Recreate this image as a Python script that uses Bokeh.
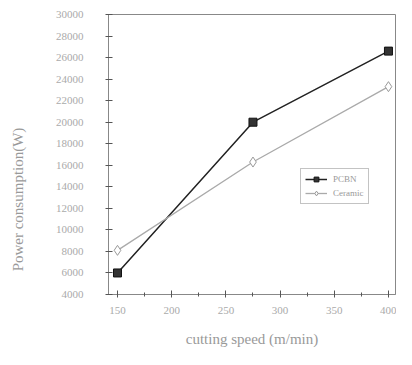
import math
from bokeh.plotting import figure
from bokeh.embed import file_html
from bokeh.resources import INLINE
from bokeh.models import Range1d, Legend, LegendItem, FixedTicker, Label

speed = [150, 275, 400]
pcbn = [6000, 20000, 26600]
ceramic = [8100, 16300, 23300]
x_ticks = [150, 200, 250, 300, 350, 400]
y_ticks = list(range(4000, 30001, 2000))
series_names = ["PCBN", "Ceramic"]

p = figure(width=396, height=349, output_backend="svg", toolbar_location=None,
           x_range=Range1d(141.7, 406.5), y_range=Range1d(4000, 30000),
           min_border_left=108, min_border_right=1, min_border_top=14, min_border_bottom=49)
p.grid.visible = False
p.outline_line_color = "#888888"
p.background_fill_color = "white"

r1 = p.line(speed, pcbn, line_color="#222222", line_width=1.5)
m1 = p.scatter(speed, pcbn, marker="square", size=8, fill_color="#333333", line_color="#111111")
r2 = p.line(speed, ceramic, line_color="#aaaaaa", line_width=1.3)
m2 = p.scatter(speed, ceramic, marker="diamond", size=10, fill_color="white", line_color="#999999")

legend = Legend(items=[LegendItem(label=series_names[0], renderers=[r1, m1]),
                       LegendItem(label=series_names[1], renderers=[r2, m2])],
                location=(192, 90), border_line_color="#888888", label_text_font_size="9px",
                label_text_color="#999999", label_text_font="Liberation Serif",
                glyph_width=22, glyph_height=12, spacing=2, padding=4, margin=0,
                label_standoff=6)
p.add_layout(legend)

for ax in (p.xaxis[0], p.yaxis[0]):
    ax.axis_line_color = "#888888"
    ax.major_tick_line_color = "#555555"
    ax.minor_tick_line_color = "#555555"
    ax.major_tick_in = 4
    ax.major_tick_out = 3
    ax.minor_tick_in = 2
    ax.minor_tick_out = 2
    ax.major_label_text_color = "#aaaaaa"
    ax.major_label_text_font = "Liberation Serif"
    ax.major_label_text_font_size = "11px"
    ax.axis_label_text_color = "#999999"
    ax.axis_label_text_font = "Liberation Serif"
    ax.axis_label_text_font_style = "normal"
    ax.axis_label_text_font_size = "15px"

p.xaxis[0].ticker = FixedTicker(ticks=x_ticks, minor_ticks=[175, 225, 275, 325, 375])
p.yaxis[0].ticker = FixedTicker(ticks=y_ticks, minor_ticks=[])
p.xaxis[0].axis_label = "cutting speed (m/min)"
p.yaxis[0].major_label_standoff = 22
p.xaxis[0].major_label_standoff = 9
p.xaxis[0].axis_label_standoff = 14

ylab = Label(x=-19, y=95, x_units="screen", y_units="screen", text="Power consumption(W)",
             angle=math.pi / 2, text_align="center", text_baseline="middle",
             text_font="Liberation Serif", text_font_size="15px", text_color="#999999")
p.add_layout(ylab, "left")

open("out.html", "w").write(file_html(p, INLINE))
